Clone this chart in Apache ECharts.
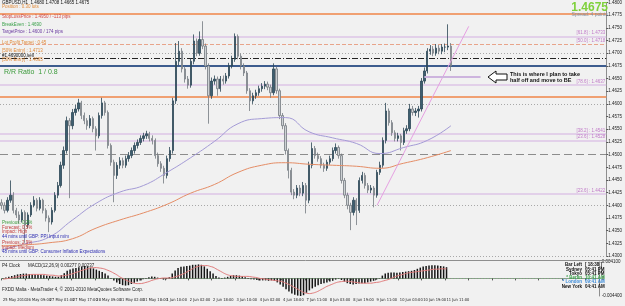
<!DOCTYPE html>
<html>
<head>
<meta charset="utf-8">
<script src="https://cdn.jsdelivr.net/npm/echarts@6.0.0/dist/echarts.min.js"></script>
<style>
html, body { margin: 0; padding: 0; background: #f1f1f1; }
#main { width: 625px; height: 306px; }
</style>
</head>
<body>
<div id="main"></div>
<script>
// GBPUSD, 2h bars
var myChart = echarts.init(document.getElementById('main'));

var timeLabels = ['25 May 2010', '26 May 09:00', '27 May 01:00', '27 May 17:00', '28 May 09:00', '31 May 02:00',
  '31 May 18:00', '1 Jun 10:00', '2 Jun 02:00', '2 Jun 18:00', '3 Jun 10:00', '4 Jun 02:00', '4 Jun 18:00',
  '7 Jun 11:00', '8 Jun 03:00', '8 Jun 19:00', '9 Jun 11:00', '10 Jun 03:00', '10 Jun 19:00', '11 Jun 11:00'];

var firstOpen = 1.4405;
var closes = [
  1.4400,1.4390,1.4410,1.4420,1.4390,1.4381,1.4371,1.4386,1.4361,1.4381,
  1.4400,1.4410,1.4394,1.4410,1.4390,1.4375,1.4367,1.4390,1.4420,1.4439,
  1.4479,1.4508,1.4567,1.4557,1.4583,1.4590,1.4602,1.4577,1.4567,1.4557,
  1.4571,1.4551,1.4537,1.4577,1.4602,1.4583,1.4518,1.4485,1.4459,1.4479,
  1.4488,1.4479,1.4492,1.4498,1.4508,1.4518,1.4524,1.4532,1.4537,1.4541,
  1.4532,1.4528,1.4498,1.4482,1.4473,1.4459,1.4492,1.4508,1.4606,1.4684,
  1.4704,1.4669,1.4649,1.4637,1.4684,1.4724,1.4700,1.4727,1.4714,1.4675,
  1.4616,1.4645,1.4649,1.4630,1.4649,1.4645,1.4655,1.4675,1.4688,1.4733,
  1.4694,1.4675,1.4661,1.4626,1.4606,1.4616,1.4622,1.4630,1.4635,1.4639,
  1.4633,1.4622,1.4669,1.4626,1.4577,1.4557,1.4508,1.4469,1.4426,1.4420,
  1.4434,1.4424,1.4439,1.4410,1.4479,1.4512,1.4498,1.4492,1.4479,1.4473,
  1.4485,1.4492,1.4508,1.4514,1.4498,1.4449,1.4420,1.4400,1.4386,1.4410,
  1.4390,1.4449,1.4459,1.4439,1.4430,1.4434,1.4420,1.4465,1.4479,1.4528,
  1.4586,1.4563,1.4543,1.4532,1.4537,1.4524,1.4547,1.4551,1.4590,1.4583,
  1.4586,1.4590,1.4645,1.4665,1.4704,1.4708,1.4700,1.4710,1.4704,1.4712,
  1.4712,1.4714,1.4675];
var highs = [
  1.4412,1.4406,1.4416,1.4449,1.4426,1.4395,1.4388,1.4392,1.4390,1.4386,
  1.4406,1.4418,1.4414,1.4416,1.4413,1.4394,1.4380,1.4396,1.4426,1.4446,
  1.4486,1.4516,1.4575,1.4572,1.4590,1.4598,1.4610,1.4606,1.4583,1.4572,
  1.4578,1.4575,1.4556,1.4583,1.4612,1.4606,1.4587,1.4522,1.4490,1.4485,
  1.4495,1.4494,1.4498,1.4505,1.4514,1.4524,1.4530,1.4538,1.4543,1.4547,
  1.4545,1.4538,1.4532,1.4504,1.4487,1.4478,1.4498,1.4515,1.4612,1.4720,
  1.4724,1.4710,1.4674,1.4655,1.4690,1.4737,1.4729,1.4743,1.4763,1.4719,
  1.4680,1.4652,1.4656,1.4654,1.4655,1.4656,1.4661,1.4681,1.4695,1.4739,
  1.4737,1.4699,1.4680,1.4665,1.4631,1.4622,1.4628,1.4636,1.4641,1.4645,
  1.4644,1.4638,1.4680,1.4673,1.4630,1.4582,1.4562,1.4512,1.4474,1.4432,
  1.4440,1.4440,1.4446,1.4444,1.4486,1.4524,1.4517,1.4504,1.4497,1.4484,
  1.4490,1.4498,1.4514,1.4522,1.4518,1.4502,1.4454,1.4425,1.4405,1.4416,
  1.4414,1.4455,1.4466,1.4464,1.4444,1.4440,1.4438,1.4470,1.4486,1.4534,
  1.4602,1.4591,1.4568,1.4548,1.4543,1.4541,1.4553,1.4558,1.4600,1.4596,
  1.4592,1.4596,1.4651,1.4672,1.4710,1.4716,1.4714,1.4718,1.4716,1.4718,
  1.4719,1.4757,1.4720];
var lows = [
  1.4392,1.4384,1.4386,1.4405,1.4384,1.4375,1.4364,1.4366,1.4326,1.4355,
  1.4377,1.4396,1.4388,1.4390,1.4384,1.4368,1.4347,1.4362,1.4386,1.4414,
  1.4435,1.4472,1.4502,1.4414,1.4550,1.4577,1.4585,1.4570,1.4560,1.4549,
  1.4552,1.4544,1.4508,1.4532,1.4571,1.4577,1.4512,1.4478,1.4406,1.4452,
  1.4472,1.4473,1.4474,1.4486,1.4493,1.4502,1.4512,1.4519,1.4526,1.4531,
  1.4526,1.4520,1.4492,1.4476,1.4466,1.4443,1.4453,1.4486,1.4502,1.4600,
  1.4676,1.4662,1.4642,1.4630,1.4632,1.4678,1.4694,1.4695,1.4708,1.4668,
  1.4561,1.4610,1.4638,1.4616,1.4624,1.4638,1.4640,1.4650,1.4670,1.4683,
  1.4688,1.4668,1.4655,1.4620,1.4586,1.4600,1.4610,1.4616,1.4624,1.4629,
  1.4627,1.4612,1.4617,1.4620,1.4570,1.4550,1.4500,1.4453,1.4420,1.4412,
  1.4414,1.4418,1.4418,1.4384,1.4404,1.4473,1.4492,1.4486,1.4473,1.4466,
  1.4468,1.4480,1.4487,1.4502,1.4492,1.4443,1.4414,1.4392,1.4351,1.4380,
  1.4361,1.4385,1.4443,1.4433,1.4424,1.4424,1.4396,1.4415,1.4460,1.4474,
  1.4522,1.4557,1.4537,1.4526,1.4526,1.4508,1.4519,1.4541,1.4546,1.4577,
  1.4576,1.4573,1.4585,1.4640,1.4660,1.4697,1.4694,1.4695,1.4698,1.4698,
  1.4702,1.4706,1.4665];

// MACD(12,26,9)
var macdMain = [
  0.0001,0.0002,0.0004,0.0006,0.0008,0.0010,0.0011,0.0012,0.0012,0.0011,
  0.0010,0.0010,0.0009,0.0009,0.0008,0.0007,0.0006,0.0005,0.0004,0.0004,
  0.0008,0.0013,0.0019,0.0022,0.0025,0.0026,0.0028,0.0030,0.0031,0.0029,
  0.0027,0.0025,0.0022,0.0019,0.0016,0.0012,0.0007,0.0001,-0.0005,-0.0010,
  -0.0014,-0.0017,-0.0018,-0.0017,-0.0014,-0.0011,-0.0008,-0.0005,-0.0002,0.0001,
  0.0003,0.0005,0.0004,0.0002,-0.0001,-0.0003,-0.0002,0.0003,0.0012,0.0020,
  0.0026,0.0029,0.0030,0.0031,0.0032,0.0034,0.0034,0.0035,0.0034,0.0030,
  0.0024,0.0018,0.0012,0.0006,0.0002,0.0001,0.0002,0.0004,0.0006,0.0008,
  0.0008,0.0007,0.0005,0.0003,0.0001,-0.0002,-0.0003,-0.0004,-0.0005,-0.0005,
  -0.0005,-0.0006,-0.0005,-0.0006,-0.0010,-0.0015,-0.0021,-0.0027,-0.0033,-0.0038,
  -0.0041,-0.0043,-0.0044,-0.0042,-0.0036,-0.0030,-0.0025,-0.0021,-0.0017,-0.0014,
  -0.0012,-0.0010,-0.0008,-0.0006,-0.0003,0.0001,-0.0004,-0.0008,-0.0012,-0.0014,
  -0.0015,-0.0014,-0.0013,-0.0012,-0.0012,-0.0010,-0.0008,-0.0006,-0.0003,0.0001,
  0.0007,0.0012,0.0014,0.0015,0.0015,0.0014,0.0015,0.0016,0.0017,0.0018,
  0.0019,0.0021,0.0024,0.0027,0.0030,0.0031,0.0032,0.0033,0.0033,0.0032,
  0.0031,0.0030,0.0028];
var macdSignal = [
  -0.0002,-0.0001,0.0000,0.0001,0.0003,0.0004,0.0006,0.0007,0.0008,0.0009,
  0.0010,0.0010,0.0010,0.0010,0.0010,0.0009,0.0008,0.0008,0.0007,0.0006,
  0.0006,0.0007,0.0008,0.0010,0.0012,0.0015,0.0017,0.0020,0.0022,0.0024,
  0.0026,0.0027,0.0027,0.0026,0.0025,0.0023,0.0020,0.0017,0.0013,0.0009,
  0.0004,0.0000,-0.0004,-0.0007,-0.0010,-0.0012,-0.0013,-0.0013,-0.0012,-0.0010,
  -0.0008,-0.0005,-0.0003,-0.0001,0.0000,0.0001,0.0001,0.0001,0.0002,0.0004,
  0.0006,0.0009,0.0012,0.0016,0.0020,0.0024,0.0028,0.0030,0.0032,0.0032,
  0.0032,0.0030,0.0028,0.0024,0.0020,0.0016,0.0012,0.0009,0.0007,0.0006,
  0.0005,0.0005,0.0005,0.0005,0.0005,0.0004,0.0003,0.0002,0.0000,-0.0001,
  -0.0002,-0.0003,-0.0004,-0.0005,-0.0006,-0.0007,-0.0009,-0.0012,-0.0015,-0.0019,
  -0.0023,-0.0027,-0.0031,-0.0035,-0.0037,-0.0038,-0.0037,-0.0035,-0.0032,-0.0028,
  -0.0024,-0.0020,-0.0017,-0.0014,-0.0011,-0.0009,-0.0008,-0.0007,-0.0007,-0.0008,
  -0.0009,-0.0010,-0.0011,-0.0012,-0.0012,-0.0012,-0.0012,-0.0011,-0.0010,-0.0009,
  -0.0007,-0.0005,-0.0003,0.0000,0.0003,0.0006,0.0008,0.0010,0.0012,0.0014,
  0.0015,0.0016,0.0017,0.0018,0.0019,0.0020,0.0021,0.0022,0.0023,0.0023,
  0.0024,0.0024,0.0024];

// moving averages, read every 8 bars
var maBars = [0, 8, 16, 24, 32, 40, 48, 56, 64, 72, 80, 88, 96, 104, 112, 120, 128, 136, 144, 152];
var maPurple = [1.4312, 1.4324, 1.4337, 1.4371, 1.4404, 1.4426, 1.4439, 1.4465, 1.4494, 1.4526,
  1.4561, 1.4571, 1.4573, 1.4545, 1.4533, 1.4522, 1.4502, 1.4514, 1.4528, 1.4557];
var maOrange = [1.4320, 1.4322, 1.4326, 1.4334, 1.4355, 1.4371, 1.4385, 1.4402, 1.4424, 1.4441,
  1.4465, 1.4479, 1.4484, 1.4481, 1.4479, 1.4477, 1.4473, 1.4483, 1.4494, 1.4508];

// horizontal levels: price, kind, fib text
var levelPrices = [1.4778, 1.4733, 1.4718, 1.4700, 1.4690, 1.4675, 1.4637, 1.4614, 1.4600, 1.4541, 1.4528, 1.4500, 1.4422, 1.4400, 1.4300];
var levelKinds = ['orange', 'fib', 'fibDash', 'round', 'entry', 'blue', 'fib', 'orange', 'round', 'fib', 'fib', 'half', 'fib', 'round', 'round'];
var levelTexts = ['', '[61.8] : 1.4733', '[50.0] : 1.4718', '', '', '', '[78.6] : 1.4637', '', '', '[38.2] : 1.4541', '[23.6] : 1.4528', '', '[23.6] : 1.4422', '', ''];
// price boxes on the right scale
var boxPrices = [1.4778, 1.4700, 1.4675, 1.4614, 1.4600, 1.4500, 1.4400, 1.4300];
var boxKinds = ['orange', 'gray', 'black', 'orange', 'gray', 'slate', 'gray', 'gray'];

var trendline = [[127, 1.4400], [158, 1.4753]];
var halfOff = [[143, 1.4653], [162, 1.4653]];

var totalBars = 205;
var font = 'Liberation Sans, Arial, sans-serif';
var narrow = 'Liberation Sans Narrow, DejaVu Sans Condensed, Liberation Sans, sans-serif';

var cats = [];
for (var i = 0; i < totalBars; i++) {
  cats.push(i % 8 === 0 && timeLabels[i / 8] ? timeLabels[i / 8] : 'b' + i);
}
var candles = closes.map(function (c, i) {
  var o = i === 0 ? firstOpen : closes[i - 1];
  return [o, c, lows[i], highs[i]];
});
var purpleData = maBars.map(function (b, k) { return [b, maPurple[k]]; });
var orangeData = maBars.map(function (b, k) { return [b, maOrange[k]]; });

var lineStyles = {
  orange: { color: '#f0a072', width: 2, type: 'solid' },
  fib: { color: '#dcc4e6', width: 1.5, type: 'solid' },
  fibDash: { color: '#e8a48a', width: 1, type: [4, 2] },
  round: { color: '#a8a8a8', width: 1, type: [1, 2] },
  entry: { color: '#222', width: 1, type: [6, 2, 1, 2] },
  blue: { color: '#3d5c8e', width: 2, type: 'solid' },
  half: { color: '#8c8c8c', width: 1, type: [8, 4] }
};
var boxColors = { orange: '#ee8a4e', gray: '#9c9c9c', black: '#1d1d1d', slate: '#5d6d8e' };

var markData = levelPrices.map(function (p, k) {
  var t = levelTexts[k];
  return {
    yAxis: p,
    lineStyle: lineStyles[levelKinds[k]],
    label: {
      show: !!t, position: 'insideEndTop', formatter: t, distance: 1,
      fontSize: 4.5, fontFamily: font, color: '#c07ac8'
    }
  };
});
boxPrices.forEach(function (p, k) {
  markData.push({
    yAxis: p,
    lineStyle: { width: 0, opacity: 0 },
    label: {
      show: true, position: 'end', distance: 1, formatter: p.toFixed(4),
      fontSize: 4.5, fontFamily: font, color: '#fff',
      backgroundColor: boxColors[boxKinds[k]], padding: [1, 1, 0, 1]
    }
  });
});

function txt(x, y, text, fill, size, extra) {
  var s = { text: text, x: x, y: y, fill: fill, fontSize: size || 4.5, fontFamily: font, verticalAlign: 'middle' };
  if (extra) { for (var key in extra) s[key] = extra[key]; }
  return { type: 'text', z: 100, style: s };
}

var graphics = [
  { type: 'line', z: 90, shape: { x1: 0, y1: 260.5, x2: 611, y2: 260.5 }, style: { stroke: '#8e8e8e', lineWidth: 1 } },
  txt(2, 3, 'GBPUSD,H1  1.4680 1.4708 1.4665 1.4675', '#111'),
  txt(2, 7, 'Position : 0.30 lots', '#e08a3a'),
  txt(2, 17, 'StopLossPrice : 1.4950 / -113 pips', '#d24a4a'),
  txt(2, 25, 'BreakEven : 1.4690', '#3aa04a'),
  txt(2, 32, 'TargetPrice : 1.4600 / 174 pips', '#6a3aa0'),
  txt(2, 43, 'Lot Profit Target : 0.45', '#e08a3a'),
  txt(2, 51, '[50% Entry] : 1.4713', '#e08a3a'),
  txt(2, 56, '#1.4690000,sell', '#111'),
  txt(2, 60, '[50% Entry] : 1.4665', '#e08a3a'),
  txt(4, 72, 'R/R Ratio  1 / 0.8', '#3a9a3a', 7),
  txt(2, 223, 'Previous: 0.2%', '#3a9a3a'),
  txt(2, 228, 'Forecast: 0.5%', '#c03a3a'),
  txt(2, 232, 'Impact: High', '#c03a3a'),
  txt(2, 237, '44 mins until GBP: PPI Input m/m', '#2a2ab0'),
  txt(2, 243, 'Previous: 2.9%', '#c03a3a'),
  txt(2, 248, 'Impact: Medium', '#c03a3a'),
  txt(2, 252, '48 mins until GBP: Consumer Inflation Expectations', '#2a2ab0'),
  txt(608, 8, '1.4675', '#7fd13b', 12, { align: 'right', fontWeight: 'bold' }),
  txt(608, 15, 'Spread: 4 points', '#7f8fa3', 5, { align: 'right' }),
  { type: 'polygon', z: 100, shape: { points: [[488, 77], [496, 71], [496, 74], [507, 74], [507, 80], [496, 80], [496, 83]] },
    style: { fill: '#fff', stroke: '#111', lineWidth: 1 } },
  txt(510, 74, 'This is where I plan to take', '#111', 5.5, { fontWeight: 'bold' }),
  txt(510, 80.5, 'half off and move to BE', '#111', 5.5, { fontWeight: 'bold' }),
  txt(2, 266, 'P4 Clock', '#222'),
  txt(28, 266, 'MACD(12,26,9) 0.00277 0.00237', '#222'),
  txt(2, 290, 'FXDD Malta - MetaTrader 4, \u00a9 2001-2010 MetaQuotes Software Corp.', '#222')
];
var clockNames = ['Bar Left', 'Sydney', 'Tokyo', '* Berlin', '* London', 'New York'];
var clockTimes = ['[ 18:38 ]', '05:41 PM', '05:41 PM', '10:41 AM', '09:41 AM', '04:41 AM'];
var clockColors = ['#111', '#111', '#111', '#3aa04a', '#3a8ad8', '#111'];
clockNames.forEach(function (n, k) {
  var y = 265 + k * 4.3;
  graphics.push(txt(582, y, n, clockColors[k], 4.5, { align: 'right', fontWeight: 'bold' }));
  graphics.push(txt(585, y, clockTimes[k], clockColors[k], 4.5, { fontWeight: 'bold' }));
});

option = {
  animation: false,
  backgroundColor: '#f1f1f1',
  grid: [
    { left: 0, right: 14, top: 1, height: 255 },
    { left: 0, right: 14, top: 262, height: 34 }
  ],
  xAxis: [
    { type: 'category', gridIndex: 0, data: cats, boundaryGap: true,
      axisLine: { show: false }, axisTick: { show: false }, axisLabel: { show: false } },
    { type: 'category', gridIndex: 1, data: cats, boundaryGap: true,
      axisLine: { show: true, lineStyle: { color: '#8e8e8e' } },
      axisTick: { show: true, interval: 7, length: 2, lineStyle: { color: '#555' } },
      axisLabel: { show: true, interval: 7, fontSize: 4, fontFamily: narrow, color: '#222', margin: 2, align: 'left',
        hideOverlap: false, showMinLabel: true,
        formatter: function (v) { return v.charAt(0) === 'b' ? '' : v; } } }
  ],
  yAxis: [
    { type: 'value', gridIndex: 0, position: 'right', min: 1.4300, max: 1.4800, interval: 0.0025,
      splitLine: { show: false },
      axisLine: { show: true, lineStyle: { color: '#8e8e8e' } },
      axisTick: { show: true, length: 2, lineStyle: { color: '#555' } },
      axisLabel: { fontSize: 4.5, fontFamily: font, color: '#222', margin: 2,
        formatter: function (v) { return v.toFixed(4); } } },
    { type: 'value', gridIndex: 1, position: 'right', min: -0.0044, max: 0.0041,
      splitLine: { show: false },
      axisLine: { show: true, lineStyle: { color: '#8e8e8e' } },
      axisTick: { show: false },
      axisLabel: { fontSize: 4.5, fontFamily: font, color: '#222', margin: 2,
        customValues: [0.0041, 0, -0.0044],
        formatter: function (v) { return v === 0 ? '0' : v.toFixed(6); } } }
  ],
  graphic: graphics,
  series: [
    {
      type: 'candlestick', xAxisIndex: 0, yAxisIndex: 0, data: candles, barWidth: 1.8,
      itemStyle: { color: '#3e5f70', color0: '#cdd1d4', borderColor: '#2c4656', borderColor0: '#737a80', borderWidth: 0.8 },
      markLine: { silent: true, precision: 4, symbol: ['none', 'none'], data: markData, z: 1 }
    },
    { type: 'line', xAxisIndex: 0, yAxisIndex: 0, data: purpleData, smooth: true, symbol: 'none',
      lineStyle: { color: '#a49bd6', width: 1 }, z: 3 },
    { type: 'line', xAxisIndex: 0, yAxisIndex: 0, data: orangeData, smooth: true, symbol: 'none',
      lineStyle: { color: '#e58d66', width: 1 }, z: 3 },
    { type: 'line', xAxisIndex: 0, yAxisIndex: 0, data: trendline, symbol: 'none',
      lineStyle: { color: '#e6a0e2', width: 1 }, z: 4 },
    { type: 'line', xAxisIndex: 0, yAxisIndex: 0, data: halfOff, symbol: 'none',
      lineStyle: { color: '#cdb4de', width: 2 }, z: 4 },
    {
      type: 'bar', xAxisIndex: 1, yAxisIndex: 1, data: macdMain, barWidth: 1.5,
      itemStyle: { color: '#151515' },
      markLine: { silent: true, precision: 6, symbol: ['none', 'none'], z: 1,
        data: [{ yAxis: 0, lineStyle: { color: '#7cc47c', width: 1, type: [1, 2] }, label: { show: false } }] }
    },
    { type: 'line', xAxisIndex: 1, yAxisIndex: 1, data: macdSignal, smooth: true, symbol: 'none',
      lineStyle: { color: '#e07a7a', width: 1 }, z: 4 }
  ]
};

myChart.setOption(option);
</script>
</body>
</html>
